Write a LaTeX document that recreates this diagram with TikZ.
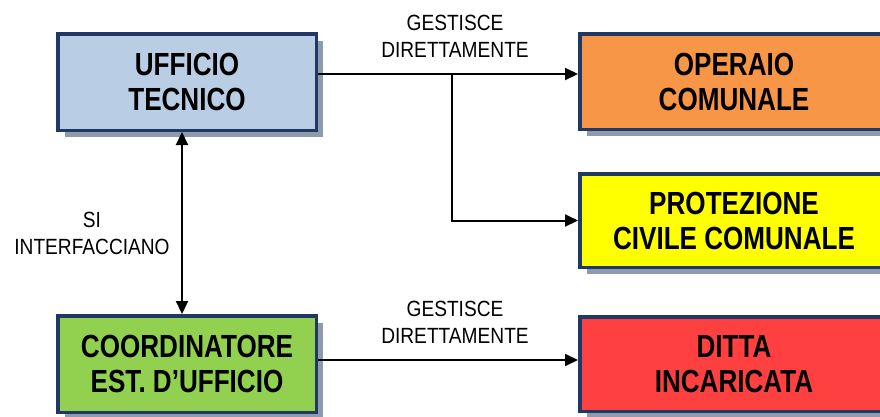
\documentclass[tikz,border=0pt]{standalone}
\usepackage{fontspec}
\setmainfont{Liberation Sans}
\newfontfamily\boxfont{Liberation Sans}[FakeStretch=0.815]
\newfontfamily\labfont{Liberation Sans}[FakeStretch=0.87]
\usepackage{xcolor}
\usetikzlibrary{arrows.meta,positioning,shadows}
\definecolor{boxline}{HTML}{1F3864}
\definecolor{shadowgray}{HTML}{8E9BAD}
\definecolor{tecfill}{HTML}{B9CDE5}
\definecolor{opefill}{HTML}{F79646}
\definecolor{profill}{HTML}{FFFF00}
\definecolor{ditfill}{HTML}{FF4040}
\definecolor{coofill}{HTML}{92D050}

\begin{document}
\begin{tikzpicture}[
    % GLOBAL CFG
    x=1pt, y=-1pt,
    >={Triangle[length=13pt,width=12pt]},
    % Styles
    box/.style={% For the coloured boxes
        rectangle,
        draw=boxline,
        line width=3.5pt,
        inner sep=0pt,
        align=center,
        font=\boxfont\bfseries\fontsize{32}{35}\selectfont,
        drop shadow={shadow xshift=7pt, shadow yshift=-7pt, fill=shadowgray, opacity=1},
        },
    lab/.style={% For the texts on the connectors
        inner sep=0pt,
        align=center,
        font=\labfont\fontsize{22}{27}\selectfont,
        },
    link/.style={% Connectors
        line width=2pt,
        },
    ]

    \useasboundingbox (0,0) rectangle (880,416);
    \clip (0,0) rectangle (880,416);

    % Draw the boxes on the left
    \node [box, fill=tecfill, minimum width=258.5, minimum height=96.5] (tec) at (187,82) {UFFICIO\\TECNICO};
    \node [box, fill=coofill, minimum width=258.5, minimum height=96.5] (coo) at (187,364) {COORDINATORE\\EST. D’UFFICIO};

    % Draw the boxes on the right
    \node [box, fill=opefill, minimum width=308.5, minimum height=95.5] (ope) at (734,81.5) {OPERAIO\\COMUNALE};
    \node [box, fill=profill, minimum width=308.5, minimum height=93.5] (pro) at (734,220.5) {PROTEZIONE\\CIVILE COMUNALE};
    \node [box, fill=ditfill, minimum width=308.5, minimum height=94.5] (dit) at (734,364) {DITTA\\INCARICATA};

    % Labels
    \node [lab] (gest1) at (455,36.5) {GESTISCE\\DIRETTAMENTE};
    \node [lab] (gest2) at (455,322) {GESTISCE\\DIRETTAMENTE};
    \node [lab] (inter) at (92,233) {SI\\INTERFACCIANO};

    % Connectors
    \coordinate (split) at (452,74);
    \draw [->, link] ([yshift=8pt]tec.east) -- ([yshift=7.5pt]ope.west);
    \draw [->, link] (split) |- (pro.west);
    \draw [->, link] ([yshift=4pt]coo.east) -- ([yshift=4pt]dit.west);
    \draw [<->, link] ([xshift=-5pt]tec.south) -- ([xshift=-5pt]coo.north);

\end{tikzpicture}
\end{document}
